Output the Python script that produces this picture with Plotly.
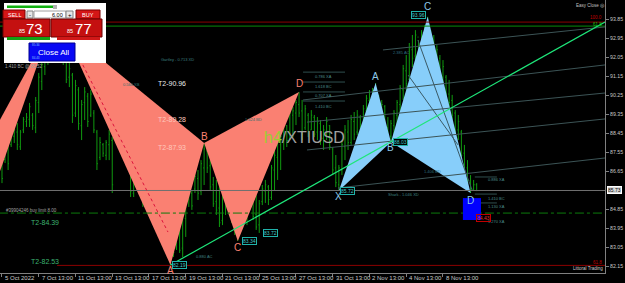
import plotly.graph_objects as go

# ---------------- data ----------------
bar_index = list(range(156))
high = [87.65,88.45,88.36,88.60,88.74,88.93,88.60,89.21,89.40,89.88,
        89.40,90.16,91.30,91.91,92.62,92.96,93.52,92.86,93.10,93.24,
        93.43,92.62,91.77,91.30,90.97,90.63,90.02,90.63,90.35,90.49,
        89.54,88.60,88.26,87.98,88.12,88.60,88.26,89.69,89.54,89.88,
        90.02,89.21,87.51,86.70,87.03,86.70,87.03,86.70,86.84,86.37,
        86.23,86.37,86.56,85.75,84.47,84.19,83.86,84.47,84.19,84.81,
        85.61,86.37,85.75,86.56,86.70,87.17,87.98,87.79,87.17,86.37,
        86.23,86.08,85.75,86.23,86.37,85.99,85.51,85.04,85.75,85.99,
        85.51,86.23,85.99,85.51,85.28,85.99,86.23,85.99,86.94,87.65,
        88.12,88.45,89.07,88.83,89.54,89.69,90.02,90.40,90.02,89.78,
        89.40,89.54,89.31,89.21,89.07,88.83,89.21,88.83,87.79,87.41,
        86.94,88.12,88.83,89.07,89.31,89.45,89.54,89.31,89.78,90.26,
        90.49,90.59,90.82,90.26,90.02,89.78,89.21,89.07,89.54,90.02,
        90.73,91.68,92.15,92.72,93.10,93.33,92.86,93.33,93.57,93.96,
        93.33,93.10,92.62,92.15,91.91,91.20,90.97,90.26,89.54,89.31,
        88.60,87.89,87.17,86.46,86.23,86.08]
low = [86.08,87.03,86.70,87.79,87.98,87.65,87.65,88.45,88.74,88.74,
       88.60,88.45,89.40,90.49,91.20,91.68,92.01,91.82,91.91,91.77,
       91.68,90.82,90.63,88.93,89.21,88.60,88.12,89.07,88.74,89.21,
       88.45,86.70,87.17,87.32,87.17,87.17,85.61,88.26,87.98,88.74,
       88.45,87.17,85.42,85.42,86.08,85.75,84.95,85.28,84.81,85.14,
       84.95,84.47,84.57,84.33,82.58,82.20,82.58,82.91,82.77,82.58,
       83.53,84.95,84.81,85.61,85.28,85.51,85.99,86.56,85.75,84.95,
       84.57,84.00,84.09,84.57,84.81,84.19,83.62,83.34,83.86,84.57,
       84.09,84.81,84.33,83.86,83.72,85.04,85.14,85.04,85.28,85.75,
       86.23,86.70,87.65,87.79,88.12,88.26,88.83,89.21,88.12,88.60,
       88.26,88.60,88.26,88.12,87.89,87.65,88.12,87.65,86.46,85.89,
       85.72,86.46,87.17,87.65,87.89,88.12,88.36,87.98,88.60,88.83,
       89.07,89.31,89.54,88.83,88.60,88.45,88.12,88.03,88.36,88.74,
       89.31,90.02,90.49,90.97,91.58,91.91,91.68,92.15,92.39,92.62,
       92.15,91.58,91.20,90.73,90.49,90.02,89.69,89.07,88.36,88.12,
       87.17,86.46,85.99,85.61,85.75,85.70]
open_ = [87.40,87.20,88.10,87.90,88.30,88.50,87.80,88.60,89.00,89.10,
         89.30,88.70,89.90,90.90,91.60,92.30,92.20,92.70,92.10,92.80,
         92.30,92.00,91.10,91.20,89.40,90.50,88.80,89.90,90.20,89.30,
         89.40,88.50,87.30,87.90,87.40,87.90,88.10,88.40,89.30,88.90,
         89.60,88.90,87.30,85.60,86.40,86.60,85.80,86.50,85.40,86.30,
         85.30,86.10,84.80,85.60,84.40,82.70,83.70,83.00,84.00,83.00,
         84.40,85.30,85.60,85.80,86.30,85.70,86.80,87.60,86.90,86.00,
         85.20,84.90,84.30,85.40,85.90,85.10,84.50,83.70,84.70,85.40,
         84.70,85.20,85.90,84.60,84.10,85.20,85.70,85.90,85.40,86.70,
         87.30,87.90,88.20,88.80,88.20,89.30,89.40,89.80,89.50,88.70,
         89.30,88.60,89.20,88.50,88.90,88.20,88.50,88.80,87.70,86.80,
         86.00,86.70,87.80,88.50,88.00,89.00,88.50,89.20,88.70,89.50,
         90.00,89.50,90.30,89.90,89.10,89.70,88.70,88.30,88.80,89.30,
         89.80,90.50,91.40,91.00,92.40,92.10,93.00,92.20,93.10,92.80,
         93.30,92.50,91.90,92.00,91.10,91.10,90.30,90.00,89.40,88.60,
         88.50,87.50,86.80,86.20,85.80,86.00]
close = [86.30,88.20,87.00,88.40,88.60,87.90,88.50,89.10,89.20,89.70,
         88.80,90.00,91.10,91.70,92.40,92.10,93.30,92.00,92.90,92.20,
         91.90,91.00,91.50,89.30,90.70,88.90,89.80,90.40,89.00,90.30,
         88.60,87.00,88.00,87.50,88.00,88.40,86.00,89.50,88.20,89.70,
         88.70,87.40,85.70,86.50,86.80,85.90,86.70,85.50,86.60,85.40,
         86.00,84.70,86.30,84.50,82.80,83.90,82.80,84.20,82.90,84.60,
         85.40,86.10,85.00,86.40,85.60,87.00,87.70,86.80,85.90,85.10,
         84.80,84.20,85.50,86.00,85.00,84.40,83.80,84.80,85.50,84.80,
         85.30,86.00,84.50,84.00,85.10,85.80,86.00,85.30,86.80,87.40,
         88.00,88.30,88.90,88.10,89.40,89.50,89.90,89.40,88.40,89.60,
         88.50,89.30,88.40,89.00,88.10,88.60,89.00,87.80,86.70,86.10,
         86.80,87.90,88.60,88.00,89.10,88.40,89.30,88.20,89.60,90.10,
         89.40,90.40,89.80,89.00,89.80,88.60,88.30,88.90,89.40,89.90,
         90.60,91.50,90.80,92.50,92.00,93.10,92.00,93.20,92.60,93.40,
         92.40,91.80,92.40,91.00,91.60,90.20,89.90,89.30,88.50,89.00,
         87.40,86.70,86.10,85.80,86.00,85.73]

date_tick_index = [0, 12, 24, 36, 48, 60, 72, 84, 96, 108, 120, 132, 144]
date_tick_labels = ["5 Oct 2022", "7 Oct 13:00", "11 Oct 13:00", "13 Oct 13:00",
                    "17 Oct 13:00", "19 Oct 13:00", "21 Oct 13:00", "25 Oct 13:00",
                    "27 Oct 13:00", "31 Oct 13:00", "2 Nov 13:00", "4 Nov 13:00",
                    "8 Nov 13:00"]
price_ticks = [93.85, 92.95, 92.05, 91.15, 90.25, 89.35, 88.45, 87.55, 86.65,
               84.85, 83.95, 83.05, 82.15]

point_names = ["X", "A", "B", "C", "D"]
pink_index = [20, 55, 66, 77, 97]
pink_price = [93.43, 82.20, 87.98, 83.34, 90.40]
blue_index = [110, 122, 127, 139, 153]
blue_price = [85.72, 90.82, 88.03, 93.96, 85.61]
prev_index = [-5, 16, -5]
prev_price = [87.93, 93.52, 84.85]

level_100 = 93.71
level_618_top = 93.52
level_618_low = 82.18
bid_price = 85.73
buy_limit = 84.66

trend_index = [55, 196.9]
trend_price = [82.20, 93.71]

channel_lines = [  # (i0, p0, i1, p1)
    (124.4, 92.39, 196.9, 93.48),
    (98.3, 90.02, 196.9, 91.68),
    (99.6, 88.97, 196.9, 90.35),
    (99.6, 87.65, 196.9, 89.12),
    (109.7, 85.85, 196.9, 87.27),
]
inner_lines = [(135.8, 92.86, 153.5, 85.75), (132.6, 91.20, 148.9, 87.89)]
dotted_line = (26.4, 91.68, 54.2, 83.76)

pink_fib_levels = [91.34, 90.87, 90.40, 89.97]
pink_fib_text_price = [91.15, 90.68, 90.21, 89.73]
pink_fib_labels = ["0.786 XA", "1.618 BC", "0.707 XA", "1.410 BC"]
blue_fib_levels = [86.37, 85.56, 85.14]
blue_fib_text_price = [86.23, 85.37, 84.99, 84.28]
blue_fib_labels = ["0.886 XA", "1.410 BC", "1.130 XA", "1.270 XA"]

t2_upper = [90.96, 89.28, 87.93]
t2_lower = [84.39, 82.53]

prz_index = [150.5, 156.4]
prz_price = [84.33, 85.37]

# ---------------- figure ----------------
W, H = 625, 283
PLOT_W, PLOT_H = 605, 273
FONT = "Liberation Sans"

fig = go.Figure()

def poly(xs, ys, color):
    fig.add_trace(go.Scatter(x=xs + [xs[0]], y=ys + [ys[0]], fill="toself",
                             fillcolor=color, mode="lines", line=dict(width=0, color=color),
                             hoverinfo="skip"))

poly(prev_index, prev_price, "#FA8072")
poly(pink_index[0:3], pink_price[0:3], "#FA8072")
poly(pink_index[2:5], pink_price[2:5], "#FA8072")
poly(blue_index[0:3], blue_price[0:3], "#87CEFA")
poly(blue_index[2:5], blue_price[2:5], "#87CEFA")

def seg(x0, y0, x1, y1, color, width=1, dash=None):
    fig.add_trace(go.Scatter(x=[x0, x1], y=[y0, y1], mode="lines",
                             line=dict(color=color, width=width, dash=dash),
                             hoverinfo="skip"))

XL, XR = -1, 198
seg(XL, bid_price, XR, bid_price, "#707070", 1)
seg(XL, buy_limit, XR, buy_limit, "#0c7a0c", 1, "dashdot")
seg(XL, level_100, XR, level_100, "#8B0000", 1)
seg(XL, level_618_top, XR, level_618_top, "#0a8a0a", 1)
seg(18, level_618_low, XR, level_618_low, "#8B0000", 1)

for (a, b, c, d) in channel_lines:
    seg(a, b, c, d, "#3c5456", 1)
for (a, b, c, d) in inner_lines:
    seg(a, b, c, d, "#3a5a66", 1)
seg(*dotted_line, "#DC143C", 1, "dot")

for lv in pink_fib_levels:
    seg(98.3, lv, 112, lv, "#2F4F4F", 1)
for lv in blue_fib_levels:
    seg(154.4, lv, 161.6, lv, "#2F4F4F", 1)

fig.add_trace(go.Ohlc(x=bar_index, open=open_, high=high, low=low, close=close,
                      increasing=dict(line=dict(color="#109a10", width=1)),
                      decreasing=dict(line=dict(color="#109a10", width=1)),
                      tickwidth=0.3, hoverinfo="skip"))

seg(trend_index[0], trend_price[0], trend_index[1], trend_price[1], "#1EE67A", 1.2)

shapes = []
shapes.append(dict(type="rect", xref="x", yref="y", x0=prz_index[0], x1=prz_index[1],
                   y0=prz_price[0], y1=prz_price[1], fillcolor="#0000FF",
                   line=dict(width=0), layer="above"))

def pp(px, py):
    return px / PLOT_W, 1 - py / PLOT_H

def rect(x0, y0, x1, y1, fill, line=None):
    a, b = pp(x0, y1)
    c, d = pp(x1, y0)
    shapes.append(dict(type="rect", xref="paper", yref="paper", x0=a, y0=b, x1=c, y1=d,
                       fillcolor=fill, layer="above",
                       line=dict(width=1 if line else 0, color=line or fill)))

annotations = []

def txt(px, py, s, size, color, anchor="left", **kw):
    x, y = pp(px, py)
    annotations.append(dict(xref="paper", yref="paper", x=x, y=y, text=s,
                            showarrow=False, xanchor=anchor, yanchor="middle",
                            font=dict(family=FONT, size=size, color=color),
                            borderpad=0, **kw))

def dtxt(x, y, s, size, color, anchor="left", yanchor="middle", **kw):
    annotations.append(dict(xref="x", yref="y", x=x, y=y, text=s, showarrow=False,
                            xanchor=anchor, yanchor=yanchor,
                            font=dict(family=FONT, size=size, color=color),
                            borderpad=0, **kw))

# trading panel
rect(4, 3, 106, 63, "#FFFFFF")
rect(7, 5.5, 53, 8, "#10B010")
rect(53, 5, 57, 9, "#B0B0B0")
rect(3, 10, 25, 19, "#D41616", "#7a0000")
rect(27, 11, 33, 18, "#E6E6E6", "#808080")
rect(34, 11, 66, 18, "#FFFFFF", "#A0A0A0")
rect(66, 11, 73, 18, "#E6E6E6", "#808080")
rect(76, 10, 100, 19, "#D41616", "#7a0000")
rect(3, 19, 50, 37, "#C41010", "#6a0000")
rect(51, 19, 102, 37, "#C41010", "#6a0000")
rect(7, 37, 50, 40, "#14A014")
rect(57, 37, 100, 40, "#D01818")
rect(29, 43, 75, 61, "#0808F4", "#000090")
txt(14, 14.5, "SELL", 5.5, "#FFFFFF", "center")
txt(30, 14.5, "-", 6, "#000000", "center")
txt(64, 14.5, "6.00", 5.5, "#000000", "right")
txt(69.5, 14.5, "+", 6, "#000000", "center")
txt(88, 14.5, "BUY", 5.5, "#FFFFFF", "center")
txt(22, 31, "85", 5.5, "#FFFFFF", "center")
txt(34, 28.5, "73", 15, "#FFFFFF", "center")
txt(70, 31, "85", 5.5, "#FFFFFF", "center")
txt(83, 28.5, "77", 15, "#FFFFFF", "center")
txt(53, 52, "Close All", 8, "#FFFFFF", "center")
txt(30.5, 45.5, "85.34", 3, "#80C0FF")
txt(30.5, 57.5, "84.43", 3, "#80C0FF")

# misc chart texts
txt(4, 66, "1.410 BC @ 85.52", 4.5, "#A0A0A0")
txt(5, 210, "#39904246 buy limit 8.00", 4.5, "#A0A0A0")
txt(160, 59, "Gartley - 0.713 XD", 4, "#3E8080")
txt(122, 84, "0.566 XB", 4, "#2E7070")
txt(244, 119, "1.624 BD", 4, "#2E7070")
txt(195, 256, "0.880 AC", 4, "#3E8080")
txt(392, 52, "2.385 AC", 4, "#2E6E7E")
txt(423, 171, "1.406 BD", 4, "#2E6E7E")
txt(387, 194, "Shark - 1.046 XD", 4, "#3E8080")
txt(575, 5, "Easy Close \u25CE", 4.5, "#C0C0C0")
txt(572, 268, "Littoral Trading", 4.5, "#D0D0D0")
txt(603, 18, "100.0", 4.5, "#C00000", "right")
txt(603, 24, "61.8", 4.5, "#10C010", "right")
txt(603, 262, "61.8", 4.5, "#C00000", "right")
txt(263, 137, "<span style='color:#9ACD32'>h4</span>/XTIUSD", 16, "#A0A0A0")

for lab, tp in zip(pink_fib_labels, pink_fib_text_price):
    dtxt(101.9, tp, lab, 4, "#4A8A8A")
for lab, tp in zip(blue_fib_labels, blue_fib_text_price):
    dtxt(158.4, tp, lab, 4, "#4A8A8A")

t2_colors = ["#E8E8E8", "#FFC8BE", "#FFC8BE"]
for v, col in zip(t2_upper, t2_colors):
    dtxt(50.6, v, "T2-%.2f" % v, 7, col, yanchor="top", yshift=1)
for v in t2_lower:
    dtxt(9.1, v, "T2-%.2f" % v, 7, "#3CB371", yanchor="top", yshift=1)

# pattern point labels
pink_shift = [8, -6, 7, -7, 8]
blue_shift = [-6, 7, -6, 10, -7]
for k in range(1, 5):
    dtxt(pink_index[k], pink_price[k], point_names[k], 10, "#FA8072", "center",
         yshift=pink_shift[k])
for k in range(5):
    dtxt(blue_index[k], blue_price[k], point_names[k], 10, "#8EC8E8", "center",
         yshift=blue_shift[k])

box = dict(bordercolor="#20B2AA", borderwidth=1, bgcolor="#000000")
dtxt(pink_index[1], pink_price[1], "%.2f" % 82.19, 5, "#40C8C8", "left", xshift=2, **box)
dtxt(pink_index[3], pink_price[3], "%.2f" % pink_price[3], 5, "#40C8C8", "left", xshift=4, **box)
dtxt(84, low[84], "%.2f" % low[84], 5, "#40C8C8", "left", xshift=4, **box)
dtxt(blue_index[0], blue_price[0], "%.2f" % blue_price[0], 5, "#40C8C8", "left", xshift=1, **box)
dtxt(blue_index[2], blue_price[2], "%.2f" % blue_price[2], 5, "#40C8C8", "left", xshift=2, **box)
dtxt(blue_index[3], blue_price[3], "%.2f" % blue_price[3], 5, "#40C8C8", "right", xshift=-2, yshift=2, **box)
dtxt(154.8, 84.43, "84.43", 5, "#E03030", "left", bordercolor="#C00000", borderwidth=1)

# current price box on the axis
annotations.append(dict(xref="paper", yref="y", x=1.003, y=bid_price, text="%.2f" % bid_price,
                        showarrow=False, xanchor="left", yanchor="middle",
                        font=dict(family=FONT, size=5, color="#000000"),
                        bgcolor="#D8D8D8", bordercolor="#FFFFFF", borderwidth=1, borderpad=0))

# date labels (left aligned at tick, MT4 style)
for i, lab in zip(date_tick_index, date_tick_labels):
    annotations.append(dict(xref="x", yref="paper", x=i, y=-0.018, text=lab, showarrow=False,
                            xanchor="left", yanchor="middle", xshift=1,
                            font=dict(family=FONT, size=6, color="#C8C8C8")))

fig.update_layout(
    width=W, height=H,
    margin=dict(l=0, r=W - PLOT_W, t=0, b=H - PLOT_H),
    paper_bgcolor="#000000", plot_bgcolor="#000000",
    showlegend=False,
    shapes=shapes, annotations=annotations,
    xaxis=dict(range=[-0.65, 196.9], showgrid=False, zeroline=False, showline=True,
               linecolor="#808080", linewidth=1, ticks="outside", ticklen=3,
               tickcolor="#808080", tickvals=date_tick_index, showticklabels=False,
               rangeslider=dict(visible=False), fixedrange=True),
    yaxis=dict(side="right", range=[81.82, 94.757], showgrid=False, zeroline=False,
               showline=True, linecolor="#808080", linewidth=1, ticks="outside",
               ticklen=3, tickcolor="#808080", tickvals=price_ticks,
               ticktext=["%.2f" % v for v in price_ticks],
               tickfont=dict(family=FONT, size=5.2, color="#C8C8C8"), fixedrange=True),
)

fig.write_html("out.html")
